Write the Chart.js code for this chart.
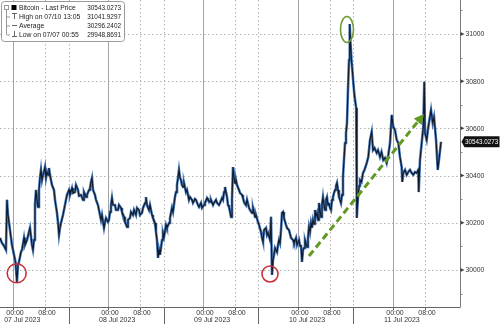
<!DOCTYPE html>
<html><head><meta charset="utf-8">
<script src="https://cdn.jsdelivr.net/npm/chart.js@4.4.1/dist/chart.umd.min.js"></script>
<style>html,body{margin:0;padding:0;background:#fff}canvas{display:block}</style>
</head><body>
<canvas id="c" width="500" height="324" style="width:500px;height:324px"></canvas>
<script>
// hours since 07 Jul 2023 00:00
const hours = [
-3.36,-2.86,-2.35,-1.85,-1.59,-1.34,-0.83,-0.33,0.18,0.56,0.92,1.19,1.44,1.95,2.20,2.71,2.96,3.46,3.97,4.22,4.73,4.98,5.24,5.49,5.74,5.99,6.25,6.50,6.75,7.00,7.26,7.51,7.76,8.02,8.27,8.52,8.78,9.03,9.28,9.53,9.79,10.29,10.55,11.05,11.30,11.56,11.81,12.06,12.57,12.82,13.33,13.58,14.09,14.34,14.85,15.10,15.60,15.86,16.36,16.62,17.12,17.63,17.88,18.39,18.64,19.15,19.40,19.65,19.90,20.16,20.66,20.92,21.42,
21.67,22.18,22.43,22.94,23.19,23.44,23.95,24.20,24.46,24.71,24.96,25.21,25.72,25.97,26.48,26.73,27.24,27.49,28.00,28.25,28.76,29.01,29.51,29.77,30.27,30.53,31.03,31.29,31.79,32.04,32.55,32.80,33.31,33.56,33.81,34.32,34.57,35.08,35.33,35.84,36.09,36.34,36.60,36.85,37.10,37.35,37.61,37.86,38.11,38.62,38.87,39.38,39.63,40.13,40.39,40.89,41.15,41.40,41.65,41.90,42.16,42.41,42.66,42.92,43.17,43.67,43.93,44.43,44.68,
45.19,45.44,45.95,46.20,46.71,46.96,47.47,47.72,48.23,48.48,48.99,49.24,49.75,50.00,50.51,50.76,51.26,51.52,52.02,52.28,52.78,53.04,53.29,53.54,53.79,54.05,54.30,54.55,54.81,55.06,55.31,55.56,55.82,56.07,56.32,56.58,57.08,57.34,57.84,58.09,58.35,58.85,59.11,59.61,59.87,60.37,60.62,61.13,61.38,61.89,62.14,62.65,62.90,63.15,63.41,63.91,64.17,64.42,64.93,65.18,65.43,65.68,65.94,66.19,66.44,66.70,66.95,67.20,67.45,67.71,67.96,68.21,68.46,68.97,69.22,69.73,
70.24,70.74,70.99,71.50,71.75,72.26,72.51,72.76,73.01,73.27,73.52,73.77,74.28,74.53,74.78,75.04,75.29,75.54,75.79,76.05,76.30,76.55,76.81,77.06,77.31,77.56,77.82,78.07,78.32,78.58,78.83,79.08,79.33,79.59,79.84,80.09,80.35,80.60,80.85,81.10,81.36,81.61,81.86,82.12,82.37,82.62,82.87,83.13,83.38,83.63,83.89,84.14,84.39,84.64,84.90,85.08,
85.28,85.53,85.78,86.04,86.29,86.54,86.72,86.87,87.05,87.25,87.48,87.68,88.06,88.44,88.82,89.37,89.78,90.21,90.64,90.97,91.35,91.90,92.23,92.74,93.12,93.57,94.00,94.43,94.84,95.27,95.70,96.10,96.53,96.96,97.37,97.79,98.22,98.37,98.63,99.06,99.49,99.89,100.32,100.75,101.16,101.59,102.02,102.42,102.53,102.85,103.28,103.69,103.94,104.12,104.55,104.96,105.64,106.07,106.40,106.91,107.34,107.75,108.17
];
const prices = [
30136,30114,30102,30085,30297,30233,30169,30106,30064,30034,29948.87,30021,30034,30076,30085,30136,30106,30127,30161,30178,30106,30085,30127,30275,30339,30297,30267,30339,30390,30424,30381,30403,30415,30436,30390,30415,30403,30432,30403,30381,30360,30339,30297,30242,30203,30148,30178,30199,30233,30254,30297,30318,30339,30318,30347,30326,30330,30360,30339,30314,30318,30297,30330,30309,30318,30339,30347,30373,30390,30339,30318,30297,30275,
30254,30212,30233,30178,30203,30220,30203,30212,30246,30275,30305,30275,30275,30254,30254,30275,30263,30246,30225,30203,30182,30212,30220,30246,30233,30254,30233,30263,30254,30233,30242,30263,30284,30309,30275,30254,30275,30233,30220,30199,30161,30127,30051,30085,30064,30093,30127,30157,30140,30191,30178,30199,30220,30263,30246,30309,30330,30360,30390,30424,30390,30381,30360,30352,30369,30330,30339,30297,30309,
30297,30284,30301,30297,30275,30267,30284,30263,30275,30284,30305,30297,30288,30297,30275,30284,30297,30284,30275,30284,30305,30297,30330,30352,30330,30309,30275,30267,30246,30225,30297,30436,30390,30369,30381,30360,30339,30326,30318,30305,30288,30275,30297,30263,30254,30242,30263,30225,30233,30203,30191,30161,30136,30119,30169,30178,30148,30157,30127,30225,29979,30042,30064,30093,30085,30076,30106,30127,30114,30169,30242,30246,30220,30191,30178,30169,
30136,30127,30114,30136,30106,30127,30102,30106,30034,30085,30093,30127,30097,30136,30182,30161,30199,30178,30212,30195,30254,30229,30242,30212,30284,30254,30225,30275,30309,30275,30254,30297,30309,30275,30284,30263,30254,30297,30309,30326,30339,30356,30369,30339,30309,30297,30284,30318,30394,30466,30538,30580,30623,30763,30890,31041.93,
30962,30890,30839,30784,30737,30708,30686,30220,30275,30326,30356,30381,30373,30411,30424,30453,30479,30551,30585,30508,30517,30496,30508,30479,30500,30466,30475,30453,30487,30538,30657,30606,30593,30551,30538,30479,30436,30373,30411,30424,30403,30415,30424,30411,30403,30415,30411,30424,30330,30466,30538,30606,30797,30580,30551,30606,30678,30623,30648,30551,30424,30479,30543.03
];
const dayStarts = [0,24,48,72,96];
const dayLabels = ['07 Jul 2023','08 Jul 2023','09 Jul 2023','10 Jul 2023','11 Jul 2023'];
const timeTicks = [0,8];
const timeLabels = ['00:00','08:00'];
const sepHour = 14;
const yTicks = [30000,30200,30400,30600,30800,31000];
const yMinor = [29900,30100,30300,30500,30700,30900,31100];
const legendLabels = ['Bitcoin - Last Price','High on 07/10 13:05','Average','Low on 07/07 00:55'];
const legendValues = ['30543.0273','31041.9297','30296.2402','29948.8691'];
const lastPrice = 30543.0273;
const lowCircles = [[0.86,29986],[64.92,29983]];
const highEllipse = [84.39,31019];
const trendFrom = [74.78,30059];
const trendTo = [103.87,30661];

const FONT = '"Liberation Sans", Arial, sans-serif';
const pts = hours.map((h,i)=>({x:h,y:prices[i]}));

const deco = {
  id:'deco',
  beforeDatasetsDraw(chart){
    const {ctx, chartArea:a, scales:{x,y}} = chart;
    ctx.save();
    ctx.lineWidth = 1;
    ctx.strokeStyle = '#b4b4b4';
    ctx.setLineDash([1.5,2.5]);
    yTicks.forEach(v=>{
      const py = Math.round(y.getPixelForValue(v))+0.5;
      ctx.beginPath(); ctx.moveTo(a.left,py); ctx.lineTo(a.right,py); ctx.stroke();
    });
    dayStarts.forEach((d,i)=>{
      [8, sepHour].forEach(hh=>{
        if (hh===sepHour && i===dayStarts.length-1) return;
        const px = Math.round(x.getPixelForValue(d+hh))+0.5;
        if (px>a.right) return;
        ctx.beginPath(); ctx.moveTo(px,a.top); ctx.lineTo(px,a.bottom); ctx.stroke();
      });
    });
    ctx.setLineDash([]);
    ctx.strokeStyle = '#a4a4a4';
    dayStarts.forEach(d=>{
      const px = Math.round(x.getPixelForValue(d))+0.5;
      ctx.beginPath(); ctx.moveTo(px,a.top); ctx.lineTo(px,a.bottom); ctx.stroke();
    });
    ctx.restore();
  },
  afterDatasetsDraw(chart){
    const {ctx, chartArea:a, scales:{x,y}} = chart;
    ctx.save();
    // red circles at lows
    ctx.strokeStyle = '#c9303a'; ctx.lineWidth = 1.6;
    lowCircles.forEach((c,i)=>{
      const r = i===0 ? 9.5 : 8;
      ctx.beginPath(); ctx.arc(x.getPixelForValue(c[0]), y.getPixelForValue(c[1]), r, 0, Math.PI*2); ctx.stroke();
    });
    // green ellipse at high
    ctx.strokeStyle = '#6f9a35'; ctx.lineWidth = 1.6;
    ctx.beginPath(); ctx.ellipse(x.getPixelForValue(highEllipse[0]), y.getPixelForValue(highEllipse[1]), 6.5, 13, 0, 0, Math.PI*2); ctx.stroke();
    // trend arrow
    const x1=x.getPixelForValue(trendFrom[0]), y1=y.getPixelForValue(trendFrom[1]);
    const x2=x.getPixelForValue(trendTo[0]), y2=y.getPixelForValue(trendTo[1]);
    const ang = Math.atan2(y2-y1,x2-x1);
    const hl = 10;
    const bx = x2 - hl*Math.cos(ang), by = y2 - hl*Math.sin(ang);
    ctx.strokeStyle = '#5f9a22'; ctx.fillStyle = '#5f9a22'; ctx.lineWidth = 3;
    ctx.setLineDash([7,4]);
    ctx.beginPath(); ctx.moveTo(x1,y1); ctx.lineTo(bx,by); ctx.stroke();
    ctx.setLineDash([]);
    ctx.beginPath();
    ctx.moveTo(x2,y2);
    ctx.lineTo(bx + 5*Math.sin(ang), by - 5*Math.cos(ang));
    ctx.lineTo(bx - 5*Math.sin(ang), by + 5*Math.cos(ang));
    ctx.closePath(); ctx.fill();

    // right axis
    ctx.strokeStyle = '#7a7a7a'; ctx.lineWidth = 1;
    const ax = Math.round(a.right)+0.5;
    ctx.beginPath(); ctx.moveTo(ax,0); ctx.lineTo(ax,a.bottom); ctx.stroke();
    ctx.fillStyle = '#444';
    yTicks.forEach(v=>{
      const py = y.getPixelForValue(v);
      ctx.beginPath(); ctx.moveTo(ax,py-2); ctx.lineTo(ax+4,py); ctx.lineTo(ax,py+2); ctx.closePath(); ctx.fill();
    });
    ctx.strokeStyle = '#888';
    yMinor.forEach(v=>{
      const py = Math.round(y.getPixelForValue(v))+0.5;
      if (py<0||py>a.bottom) return;
      ctx.beginPath(); ctx.moveTo(ax,py); ctx.lineTo(ax+2,py); ctx.stroke();
    });
    ctx.fillStyle = '#333';
    ctx.font = '6.8px '+FONT; ctx.textAlign='left'; ctx.textBaseline='middle';
    yTicks.forEach(v=>{ ctx.fillText(String(v), ax+5, y.getPixelForValue(v)+0.5); });

    // last price tag
    const ly = y.getPixelForValue(lastPrice);
    ctx.fillStyle = '#111';
    ctx.beginPath();
    ctx.moveTo(ax+1, ly);
    ctx.lineTo(ax+4, ly-5.5);
    ctx.lineTo(499.5, ly-5.5);
    ctx.lineTo(499.5, ly+5.5);
    ctx.lineTo(ax+4, ly+5.5);
    ctx.closePath(); ctx.fill();
    ctx.fillStyle = '#fff'; ctx.font = '6.3px '+FONT;
    ctx.fillText('30543.0273', ax+4.5, ly+0.5);

    // bottom axis
    const by0 = Math.round(a.bottom)+0.5;
    ctx.strokeStyle = '#666'; ctx.lineWidth = 1;
    ctx.beginPath(); ctx.moveTo(a.left,by0); ctx.lineTo(ax,by0); ctx.stroke();
    ctx.fillStyle = '#333'; ctx.font = '7px '+FONT; ctx.textBaseline='middle';
    dayStarts.forEach((d,i)=>{
      timeTicks.forEach((t,j)=>{
        const px = Math.round(x.getPixelForValue(d+t))+0.5;
        ctx.beginPath(); ctx.moveTo(px,by0); ctx.lineTo(px,by0+2.5); ctx.stroke();
        ctx.textAlign='center';
        ctx.fillText(timeLabels[j], px+1.5, 313);
      });
      ctx.textAlign='center';
      ctx.fillText(dayLabels[i], x.getPixelForValue(d)+9, 320.5);
      if (i<dayStarts.length-1){
        const sx = Math.round(x.getPixelForValue(d+sepHour))+0.5;
        ctx.beginPath(); ctx.moveTo(sx,by0); ctx.lineTo(sx,324); ctx.stroke();
      }
    });

    // legend box
    ctx.fillStyle = '#fff'; ctx.strokeStyle = '#9a9a9a'; ctx.lineWidth = 1;
    ctx.beginPath(); ctx.roundRect(1.5,1.5,123,40,3); ctx.fill(); ctx.stroke();
    const rowY = [7.5,16.5,25.5,34.5];
    // tree connector
    ctx.strokeStyle = '#999';
    ctx.beginPath(); ctx.moveTo(6.5,9.5); ctx.lineTo(6.5,rowY[3]); ctx.stroke();
    ctx.strokeRect(4.5,5.5,4,4);
    [1,2,3].forEach(k=>{ ctx.beginPath(); ctx.moveTo(6.5,rowY[k]+0.5); ctx.lineTo(10,rowY[k]+0.5); ctx.stroke(); });
    // icons
    ctx.fillStyle = '#000'; ctx.fillRect(11.5,5,5,5);
    ctx.strokeStyle = '#666';
    ctx.beginPath(); ctx.moveTo(12,13.5); ctx.lineTo(17,13.5); ctx.moveTo(14.5,13.5); ctx.lineTo(14.5,19); ctx.stroke();
    ctx.beginPath(); ctx.moveTo(12,25.5); ctx.lineTo(17,25.5); ctx.stroke();
    ctx.beginPath(); ctx.moveTo(14.5,31); ctx.lineTo(14.5,36.5); ctx.moveTo(12,36.5); ctx.lineTo(17,36.5); ctx.stroke();
    ctx.fillStyle = '#222'; ctx.font = '6.8px '+FONT; ctx.textBaseline='middle';
    legendLabels.forEach((t,k)=>{ ctx.textAlign='left'; ctx.fillText(t,19,rowY[k]+0.5); });
    ctx.font = '6.4px '+FONT;
    legendValues.forEach((t,k)=>{ ctx.textAlign='right'; ctx.fillText(t,121,rowY[k]+0.5); });
    ctx.restore();
  }
};

new Chart(document.getElementById('c'), {
  type:'line',
  data:{datasets:[
    {data:pts, borderColor:'#101826', borderWidth:1.1, pointRadius:0, tension:0, fill:false, order:1},
    {data:pts, borderColor:'#4576b6', borderWidth:2.6, pointRadius:0, tension:0, fill:false, order:2}
  ]},
  options:{
    responsive:false, animation:false, devicePixelRatio:1,
    layout:{padding:{left:0,right:40,top:0,bottom:17}},
    plugins:{legend:{display:false}, tooltip:{enabled:false}},
    scales:{
      x:{type:'linear', min:-3.36, max:112.97, display:false},
      y:{min:29843, max:31144, display:false}
    }
  },
  plugins:[deco]
});
</script>
</body></html>
